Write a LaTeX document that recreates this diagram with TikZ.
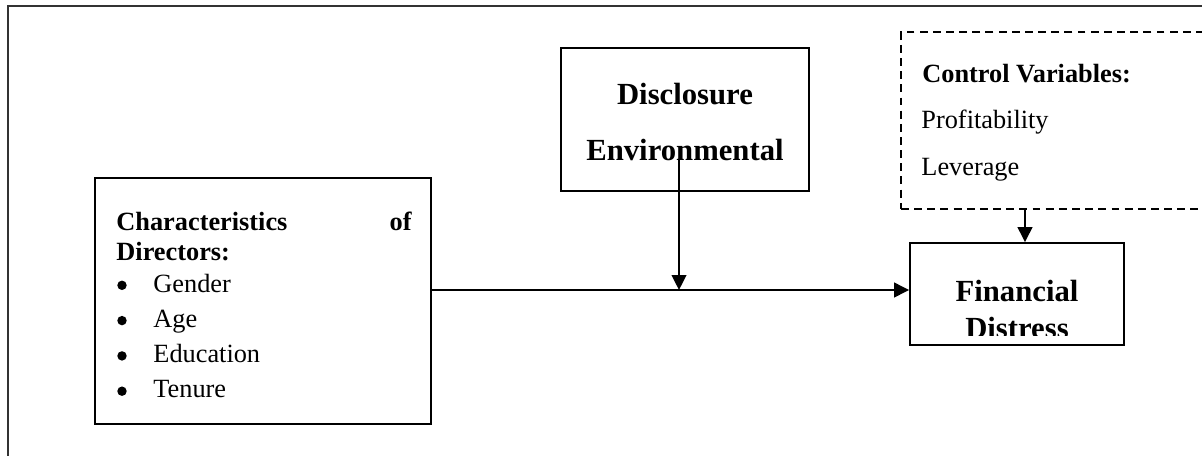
\documentclass[tikz,border=0pt]{standalone}
\usepackage{fontspec}
\setmainfont{Liberation Serif}
\usetikzlibrary{arrows.meta,fit}
\tikzset{%
    Box/.style={%
        draw,
        line width=.8pt,
        inner sep=0pt
    },
    Dash box/.style={%
        Box,
        dash pattern=on 3.6pt off 2.4pt
    },
    Link arrow/.style={%
        -{Triangle[length=6.8pt,width=6.6pt]},
        line width=1.1pt
    },
    Title text/.style={%
        inner sep=0pt,
        anchor=base,
        font=\bfseries\fontsize{14}{16}\selectfont
    },
    Item text/.style={%
        inner sep=0pt,
        anchor=base west,
        font=\fontsize{12}{14}\selectfont
    },
    Bold/.style={%
        font=\bfseries\fontsize{12}{14}\selectfont
    },
    Bullet/.style={%
        circle,
        fill,
        inner sep=0pt,
        minimum size=4.3pt
    }
}

\begin{document}
\begin{tikzpicture}[x=.456pt,y=-.456pt]
\useasboundingbox (0,0) rectangle (1202,456);
\draw[line width=.6pt,black!80] (1202,6) -- (8,6) -- (8,456);

% les cadres
\node[Box,fit={(561,48) (809,191)}] (disc) {};
\node[Box,fit={(95,178) (431,424)}] (chars) {};
\node[Box,fit={(910,243) (1124,345)}] (fin) {};
\node[Dash box,fit={(901,32) (1260,209)}] (ctrl) {};

\node[Title text] (disc-1) at (685,104) {Disclosure};
\node[Title text] (disc-2) at (685,160) {Environmental};

\node[Title text] (fin-1) at (1017,301) {Financial};
\begin{scope}
    \clip (910,243) rectangle (1124,335);
    \node[Title text] (fin-2) at (1017,338) {Distress};
\end{scope}

\node[Item text,Bold] (ctrl-0) at (922,82) {Control Variables:};
\node[Item text] (ctrl-1) at (921,128) {Profitability};
\node[Item text] (ctrl-2) at (921,175) {Leverage};

\node[Item text,Bold] (chars-0) at (116,230) {Characteristics};
\node[Item text,Bold,anchor=base east] (chars-of) at (412,230) {of};
\node[Item text,Bold] (chars-1) at (116,260) {Directors:};
\foreach \name [count=\i] in {Gender,Age,Education,Tenure}{
    \node[Bullet] (bul-\i) at (122,{250+35.3*\i}) {};
    \node[Item text] (item-\i) at (153,{256.7+35.3*\i}) {\name};
}

% les fleches
\coordinate (disc-out) at (679,160);
\coordinate (join) at (679,290);
\coordinate (ctrl-out) at (1025,209);
\draw[Link arrow] (disc-out) -- (join);
\draw[Link arrow] (chars.east |- join) -- (fin.west |- join);
\draw[Link arrow] (ctrl-out) -- (fin.north -| ctrl-out);

\end{tikzpicture}
\end{document}
